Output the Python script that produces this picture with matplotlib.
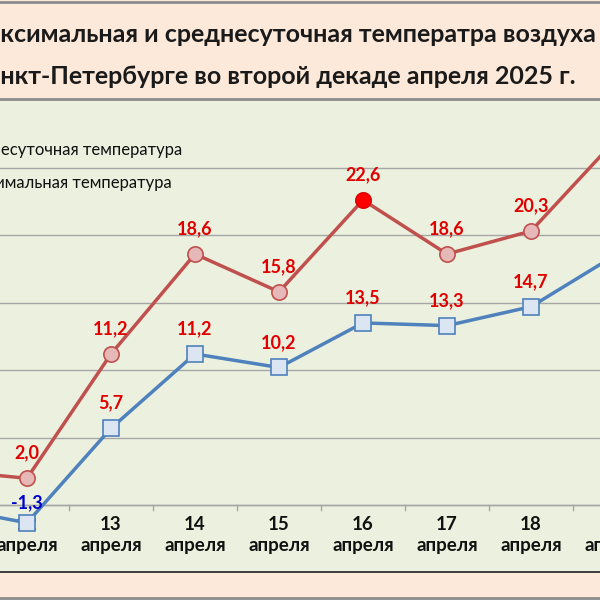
import matplotlib.pyplot as plt

# дни и температуры (11 и 19 апреля видны частично)
days = [11, 12, 13, 14, 15, 16, 17, 18, 19]
t_avg = [-0.1, -1.3, 5.7, 11.2, 10.2, 13.5, 13.3, 14.7, 18.5]
t_max = [2.6, 2.0, 11.2, 18.6, 15.8, 22.6, 18.6, 20.3, 27.0]
lbl_avg = ["-0,1", "-1,3", "5,7", "11,2", "10,2", "13,5", "13,3", "14,7", "18,5"]
lbl_max = ["2,6", "2,0", "11,2", "18,6", "15,8", "22,6", "18,6", "20,3", "27,0"]

plt.rcParams["font.family"] = "Lato"
W = 600
fig = plt.figure(figsize=(6, 6), dpi=100)
fig.patch.set_facecolor("#FDE9D9")

# зелёная область графика: от 100 до 572 px сверху
ax = fig.add_axes([0, 28 / W, 1, 472 / W])
ax.set_facecolor("#EBF1DE")
ax.set_xlim(12 - 27 / 84, 12 + 573 / 84)
ax.set_ylim(-67 / 13.57, 30)
for s in ["left", "right", "top"]:
    ax.spines[s].set_visible(False)
ax.spines["bottom"].set_color("#202020")
ax.spines["bottom"].set_linewidth(1.2)
ax.set_yticks([0, 5, 10, 15, 20, 25])
ax.tick_params(axis="y", left=False, labelleft=False)
ax.grid(axis="y", color="#A6A6A6", lw=1)
ax.axhline(0, color="#A6A6A6", lw=1)
for b in [d + 0.5 for d in days]:
    ax.plot([b, b], [0, -0.35], color="#A6A6A6", lw=1)
ax.set_xticks([])
for d in days:
    ax.text(d, -0.8, f"{d}\nапреля", ha="center", va="top", fontsize=13.5,
            fontweight="bold", color="#111111", linespacing=1.3)

ax.plot(days, t_max, color="#C0504D", lw=2.5, marker="o", ms=11,
        mfc="#E6B9B8", mec="#C0504D", mew=1.2, zorder=3)
i16 = days.index(16)
ax.plot(days[i16], t_max[i16], marker="o", ms=11, mfc="#FF0000", mec="#E00000", zorder=4)
ax.plot(days, t_avg, color="#4F81BD", lw=2.5, marker="s", ms=12,
        mfc="#DCE6F2", mec="#4F81BD", mew=1.2, zorder=3)

for d, v, l in zip(days, t_max, lbl_max):
    ax.annotate(l, (d, v), xytext=(0, 12), textcoords="offset points", ha="center",
                va="bottom", fontsize=13, fontweight="bold", color="#E00000")
for d, v, l in zip(days, t_avg, lbl_avg):
    c = "#0000CC" if v < 0 else "#E00000"
    off = 8 if v < 0 else 12
    ax.annotate(l, (d, v), xytext=(0, off), textcoords="offset points", ha="center",
                va="bottom", fontsize=13, fontweight="bold", color=c)

# легенда (обрезана слева)
fig.text(182 / W, 1 - 150 / W, "Среднесуточная температура", ha="right", va="center",
         fontsize=12, color="#111111")
fig.text(172 / W, 1 - 183 / W, "Максимальная температура", ha="right", va="center",
         fontsize=12, color="#111111")

# заголовок (обрезан по краям)
fig.canvas.draw()
r = fig.canvas.get_renderer()
def cut_text(y, pre, rest):
    t = fig.text(0, y, pre, fontsize=18, fontweight="bold")
    w = t.get_window_extent(r).width
    t.remove()
    fig.text(-w / W, y, pre + rest, ha="left", va="center", fontsize=18,
             fontweight="bold", color="#1a1a1a")
cut_text(1 - 34 / W, "Ма", "ксимальная и среднесуточная температра воздуха в")
cut_text(1 - 76 / W, "Са", "нкт-Петербурге во второй декаде апреля 2025 г.")

for yp in [2, 99, 598]:
    fig.add_artist(plt.Line2D([0, 1], [1 - yp / W] * 2, color="#8C8C8C", lw=2))

fig.savefig("out.png", dpi=100, facecolor=fig.get_facecolor())
